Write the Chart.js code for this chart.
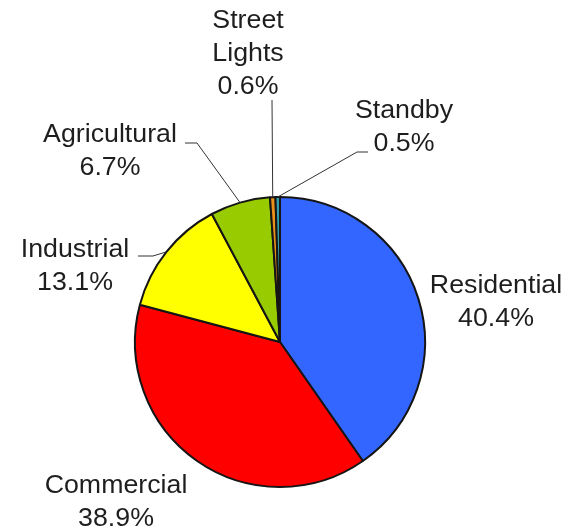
<!DOCTYPE html>
<html>
<head>
<meta charset="utf-8">
<script src="https://cdn.jsdelivr.net/npm/chart.js@4.4.1/dist/chart.umd.min.js"></script>
<style>
  html, body { margin: 0; padding: 0; background: #fff; }
  #wrap { width: 573px; height: 528px; }
</style>
</head>
<body>
<div id="wrap"><canvas id="pieChart"></canvas></div>
<script>
// データ
const categories = ['Residential', 'Commercial', 'Industrial', 'Agricultural', 'Street Lights', 'Standby'];
const shares = [40.4, 38.9, 13.1, 6.7, 0.6, 0.5];
const sliceColors = ['#3366ff', '#ff0000', '#ffff00', '#99cc00', '#e8901a', '#2f9fb0'];

// ラベルの配置（テキスト行, 中心x, 1行目ベースライン, 引き出し線の折れ点）
const labelLayout = [
    { lines: ['Residential'], x: 496, y: 293, elbow: null },
    { lines: ['Commercial'], x: 116, y: 493, elbow: null },
    { lines: ['Industrial'], x: 75, y: 257, elbow: [[153, 256], [138, 256]] },
    { lines: ['Agricultural'], x: 110, y: 142, elbow: [[197, 143], [185, 143]] },
    { lines: ['Street', 'Lights'], x: 248, y: 28, elbow: [[272, 100]] },
    { lines: ['Standby'], x: 404, y: 118, elbow: [[357, 152], [368, 152]] },
];
const lineHeight = 33;

const pieLabels = {
    id: 'pieLabels',
    afterDatasetsDraw(chart) {
        const ctx = chart.ctx;
        const arcs = chart.getDatasetMeta(0).data;
        ctx.save();
        // 引き出し線
        ctx.strokeStyle = '#333';
        ctx.lineWidth = 1;
        labelLayout.forEach((lay, i) => {
            if (!lay.elbow) return;
            const a = arcs[i];
            const mid = (a.startAngle + a.endAngle) / 2;
            const sx = a.x + Math.cos(mid) * a.outerRadius;
            const sy = a.y + Math.sin(mid) * a.outerRadius;
            ctx.beginPath();
            ctx.moveTo(sx, sy);
            lay.elbow.forEach(p => ctx.lineTo(p[0], p[1]));
            ctx.stroke();
        });
        // テキスト
        ctx.fillStyle = '#1e1e1e';
        ctx.font = '25px "Liberation Sans", Arial, sans-serif';
        ctx.textAlign = 'center';
        ctx.textBaseline = 'alphabetic';
        labelLayout.forEach((lay, i) => {
            const rows = lay.lines.concat([shares[i].toFixed(1) + '%']);
            rows.forEach((t, k) => {
                ctx.save();
                ctx.translate(lay.x, lay.y + k * lineHeight);
                ctx.scale(1.07, 1);
                ctx.fillText(t, 0, 0);
                ctx.restore();
            });
        });
        ctx.restore();
    }
};

const ctx = document.getElementById('pieChart');
new Chart(ctx, {
    type: 'pie',
    data: {
        labels: categories,
        datasets: [{
            data: shares,
            backgroundColor: sliceColors,
            borderColor: '#151515',
            borderWidth: 2,
        }]
    },
    options: {
        responsive: true,
        maintainAspectRatio: false,
        animation: false,
        radius: 145,
        layout: {
            padding: { left: 130, right: 143, top: 192, bottom: 36 }
        },
        plugins: {
            legend: { display: false },
            tooltip: { enabled: false },
        },
    },
    plugins: [pieLabels]
});
</script>
</body>
</html>
